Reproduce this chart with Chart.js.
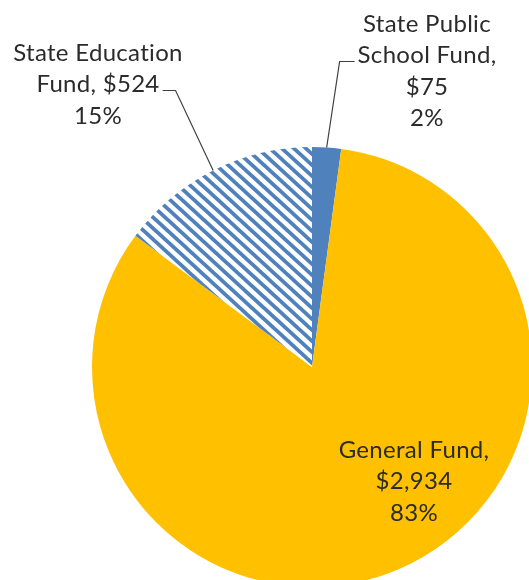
<!DOCTYPE html>
<html>
<head>
<meta charset="utf-8">
<script src="https://cdn.jsdelivr.net/npm/chart.js@4"></script>
<style>
  html, body { margin: 0; padding: 0; background: #fff; overflow: hidden; }
  body { width: 529px; height: 580px; }
</style>
</head>
<body>
<canvas id="fundChart" width="535" height="590"></canvas>
<script>
// slices start at 12 o'clock and go clockwise
const categories = ["State Public School Fund", "General Fund", "State Education Fund"];
const values = [75, 2934, 524];

const FONT = "24px Lato";
const TEXT = "#2b2b2b";

// where each data label sits (centre of the first line) and how wide it may wrap
const labelLayout = [
    { x: 427, y: 24, wrap: 150, leader: "left" },
    { x: 414, y: 450, wrap: 170, leader: null },
    { x: 98, y: 53, wrap: 185, leader: "right" }
];

function stripePattern() {
    const w = 12, h = 11;
    const c = document.createElement("canvas");
    c.width = w;
    c.height = h;
    const g = c.getContext("2d");
    g.fillStyle = "#ffffff";
    g.fillRect(0, 0, w, h);
    g.strokeStyle = "#4f81bd";
    g.lineWidth = 3.8;
    for (let k = -1; k <= 1; k++) {
        g.beginPath();
        g.moveTo(k * w - w, -h);
        g.lineTo(k * w + 2 * w, 2 * h);
        g.stroke();
    }
    return g.createPattern(c, "repeat");
}

function wrapWords(ctx, text, maxW) {
    const words = text.split(" ");
    const lines = [];
    let cur = "";
    words.forEach(wd => {
        const test = cur ? cur + " " + wd : wd;
        if (cur && ctx.measureText(test).width > maxW) {
            lines.push(cur);
            cur = wd;
        } else {
            cur = test;
        }
    });
    if (cur) lines.push(cur);
    return lines;
}

const pieLabels = {
    id: "pieLabels",
    afterDraw(chart) {
        const ctx = chart.ctx;
        const meta = chart.getDatasetMeta(0);
        const total = values.reduce((a, b) => a + b, 0);
        const lineH = 31.5;

        ctx.save();
        ctx.font = FONT;
        ctx.letterSpacing = "0.3px"; // also stops the "ti" ligature
        ctx.fillStyle = TEXT;
        ctx.textAlign = "center";
        ctx.textBaseline = "middle";

        meta.data.forEach((arc, i) => {
            const lay = labelLayout[i];
            const text = categories[i] + ", $" + values[i].toLocaleString("en-US");
            const lines = wrapWords(ctx, text, lay.wrap);
            lines.push(Math.round(values[i] / total * 100) + "%");

            lines.forEach((ln, j) => ctx.fillText(ln, lay.x, lay.y + j * lineH));

            if (!lay.leader) return;

            // leader goes from the second text line to the middle of the slice's rim
            const p = arc.getProps(["x", "y", "startAngle", "endAngle", "outerRadius"], true);
            const mid = (p.startAngle + p.endAngle) / 2;
            const ex = p.x + Math.cos(mid) * p.outerRadius;
            const ey = p.y + Math.sin(mid) * p.outerRadius;

            const w = ctx.measureText(lines[1]).width;
            const ly = lay.y + lineH + 6;
            const sx = lay.leader === "right" ? lay.x + w / 2 + 3 : lay.x - w / 2 - 3;
            const kx = lay.leader === "right" ? sx + 13 : sx - 15;

            ctx.strokeStyle = "#404040";
            ctx.lineWidth = 1.2;
            ctx.beginPath();
            ctx.moveTo(sx, ly);
            ctx.lineTo(kx, ly);
            ctx.lineTo(ex, ey);
            ctx.stroke();
        });
        ctx.restore();
    }
};

new Chart(document.getElementById("fundChart"), {
    type: "pie",
    data: {
        labels: categories,
        datasets: [{
            data: values,
            backgroundColor: ["#4f81bd", "#ffc000", stripePattern()],
            borderWidth: 0
        }]
    },
    options: {
        responsive: false,
        animation: false,
        layout: { padding: { left: 92, right: 3, top: 147, bottom: 3 } },
        plugins: {
            legend: { display: false },
            tooltip: { enabled: false }
        }
    },
    plugins: [pieLabels]
});
</script>
</body>
</html>
